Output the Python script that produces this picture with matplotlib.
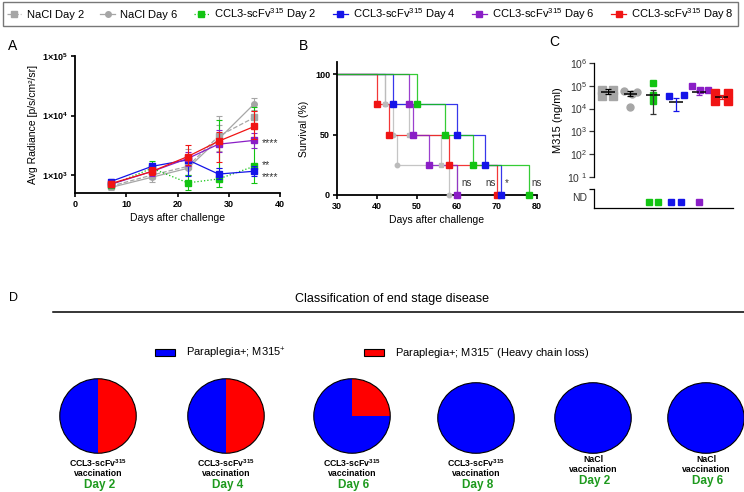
import numpy as np
import matplotlib
matplotlib.use("Agg")
import matplotlib.pyplot as plt
import matplotlib.transforms as mtrans
from matplotlib.lines import Line2D
from matplotlib.patches import Patch, Ellipse

plt.rcParams['font.family'] = ['Liberation Sans', 'DejaVu Sans']
plt.rcParams['mathtext.fontset'] = 'custom'
plt.rcParams['mathtext.rm'] = 'Liberation Sans'
plt.rcParams['mathtext.bf'] = 'Liberation Sans:bold'
plt.rcParams['mathtext.it'] = 'Liberation Sans:italic'

W, H = 744, 492


def box(l, t, r, b):
    # pixel box -> figure fraction [left, bottom, width, height]
    return [l / W, 1 - b / H, (r - l) / W, (b - t) / H]


# ---- groups ----
groups = ["NaCl Day 2", "NaCl Day 6",
          "CCL3-scFv$^{315}$ Day 2", "CCL3-scFv$^{315}$ Day 4",
          "CCL3-scFv$^{315}$ Day 6", "CCL3-scFv$^{315}$ Day 8"]
colors = ["#A6A6A6", "#A6A6A6", "#12C412", "#1414E8", "#8A1EC6", "#F01414"]
markers = ["s", "o", "s", "s", "s", "s"]
styles = ["--", "-", ":", "-", "-", "-"]

# ---- panel A: radiance ----
days_a = [7, 15, 22, 28, 35]
rad_mean = [
    [650, 1000, 1400, 4500, 9300],
    [620, 920, 1300, 4000, 15800],
    [680, 1300, 740, 860, 1410],
    [780, 1400, 1800, 1040, 1160],
    [700, 1150, 1900, 3300, 3830],
    [720, 1150, 2050, 3700, 6560],
]
rad_lo = [
    [590, 850, 1000, 1300, 7000],
    [570, 780, 1000, 2500, 12500],
    [620, 1050, 570, 620, 730],
    [720, 1200, 960, 850, 950],
    [640, 950, 1400, 2400, 2900],
    [660, 1000, 1500, 1650, 4000],
]
rad_hi = [
    [720, 1200, 2700, 10000, 11800],
    [680, 1100, 2000, 7000, 20000],
    [740, 1700, 1000, 8300, 14000],
    [850, 1600, 2200, 1300, 1400],
    [760, 1350, 2400, 5800, 5000],
    [790, 1350, 3200, 5200, 11800],
]
stars_a = {4: "****", 2: "**", 3: "****"}

# ---- panel B: survival ----
death_days = [
    [42, 48, 56, 60],
    [42, 44, 45, 58],
    [50, 57, 64, 78],
    [44, 60, 67, 71],
    [48, 49, 53, 60],
    [40, 43, 58, 70],
]
sig_labels = ["ns", "ns", "*", "ns"]
sig_x = [62.5, 68.3, 72.5, 80]

# ---- panel C: M315 serum ----
c_points = [[68000, 68000, 35000, 35000],
            [60000, 52000, 45000, 12000],
            [130000, 38000, 21000],
            [35000, 41000],
            [96000, 68000, 68000],
            [48000, 48000, 22000, 22000]]
c_mean = [54000, 44000, 38000, 18600, 55000, 32000]
c_lo = [42000, 35000, 6000, 7900, 38000, 26000]
c_hi = [70000, 57000, 68000, 29000, 68000, 40000]
c_nd = [0, 0, 2, 2, 1, 0]
c_jitter = [[-0.25, 0.25, -0.25, 0.25], [-0.3, 0.3, 0.05, 0.0], [0, 0, 0],
            [-0.3, 0.35], [-0.3, 0.05, 0.4], [-0.28, 0.28, -0.28, 0.28]]
c_ecol = ["black", "black", "#333333", "#1414E8", "#8A1EC6", "#F01414"]

# ---- panel D: end stage disease ----
pie_red = [2, 2, 1, 0, 0, 0]
pie_blue = [2, 2, 3, 4, 4, 4]
pie_name = ["CCL3-scFv$^{\\mathbf{315}}$"] * 4 + ["NaCl"] * 2
pie_day = ["Day 2", "Day 4", "Day 6", "Day 8", "Day 2", "Day 6"]

fig = plt.figure(figsize=(W / 100, H / 100), dpi=100)


def style_axis(ax):
    for s in ["top", "right"]:
        ax.spines[s].set_visible(False)
    for s in ["left", "bottom"]:
        ax.spines[s].set_linewidth(1.3)
    ax.tick_params(width=1.2, length=3, labelsize=6.5, pad=2)
    for lab in ax.get_xticklabels() + ax.get_yticklabels():
        lab.set_fontweight("bold")


# ================= A =================
axA = fig.add_axes(box(75, 56, 280, 193))
for i in range(6):
    m = np.array(rad_mean[i], float)
    lo = m - np.array(rad_lo[i])
    hi = np.array(rad_hi[i]) - m
    axA.errorbar(days_a, m, yerr=[lo, hi], color=colors[i], ls=styles[i], lw=0.9,
                 marker=markers[i], ms=4.5 if markers[i] == "s" else 4,
                 mec=colors[i], capsize=2.5, elinewidth=0.8, capthick=0.8, zorder=3 + i)
axA.set_yscale("log")
axA.set_ylim(500, 1e5)
axA.set_xlim(0, 40)
axA.set_xticks([0, 10, 20, 30, 40])
axA.set_yticks([1e3, 1e4, 1e5])
axA.set_yticklabels([r"$\mathbf{1{\times}10^{3}}$", r"$\mathbf{1{\times}10^{4}}$",
                     r"$\mathbf{1{\times}10^{5}}$"])
axA.yaxis.set_minor_locator(matplotlib.ticker.NullLocator())
style_axis(axA)
axA.set_xlabel("Days after challenge", fontsize=7.5, labelpad=3)
axA.set_ylabel("Avg Radiance [p/s/cm²/sr]", fontsize=7.5, labelpad=3)
# asterisks sit high in the em box: shift baseline down so the glyphs centre on the point
star_shift = {4: -6, 2: -2, 3: -9}
for i, s in stars_a.items():
    tr = mtrans.offset_copy(axA.transData, fig=fig, y=star_shift[i], units="dots")
    axA.text(36.4, rad_mean[i][-1], s, fontsize=7.5, color="#333333", va="baseline",
             ha="left", transform=tr)

# ================= B =================
axB = fig.add_axes(box(337, 62, 537, 195))
order_b = [0, 1, 5, 3, 4, 2]
for i in order_b:
    t = [0] + death_days[i]
    n = len(death_days[i])
    surv = 100 - 100 * np.arange(n + 1) / n
    c = "#BBBBBB" if i < 2 else colors[i]
    axB.step(t, surv, where="post", color=c, lw=0.9, alpha=0.85, zorder=2)
    ms = 4.5 if i == 3 else (3.2 if i < 2 else 3.8)
    axB.plot(death_days[i], surv[1:], ls="none", marker=markers[i] if i < 2 else "s",
             ms=ms, color=c, mec=c, zorder=4, clip_on=False)
axB.set_xlim(30, 80)
axB.set_ylim(0, 110)
axB.set_xticks([30, 40, 50, 60, 70, 80])
axB.set_yticks([0, 50, 100])
style_axis(axB)
axB.set_xlabel("Days after challenge", fontsize=7.5, labelpad=3)
axB.set_ylabel("Survival (%)", fontsize=7.5, labelpad=4)
for x, s in zip(sig_x, sig_labels):
    axB.text(x, 10, s, fontsize=7, color="#333333", ha="center", va="center", clip_on=False)

# ================= C =================
axC = fig.add_axes(box(594, 63, 733, 177))
axC2 = fig.add_axes(box(594, 189, 733, 208))
for i in range(6):
    xs = i + np.array(c_jitter[i])
    ms = 6 if i in (0, 5) else 5
    axC.plot(xs, c_points[i], ls="none", marker=markers[i], ms=ms, color=colors[i],
             mec=colors[i], zorder=3, clip_on=False)
    axC.hlines(c_mean[i], i - 0.3, i + 0.3, color="black", lw=1.1, zorder=4)
    axC.errorbar([i], [c_mean[i]], yerr=[[c_mean[i] - c_lo[i]], [c_hi[i] - c_mean[i]]],
                 fmt="none", ecolor=c_ecol[i], elinewidth=0.9, capsize=2.5, capthick=0.9, zorder=4)
    if c_nd[i]:
        nx = i + (np.arange(c_nd[i]) - (c_nd[i] - 1) / 2) * 0.4
        axC2.plot(nx, [0.32] * c_nd[i], ls="none", marker="s", ms=4.5, color=colors[i],
                  mec=colors[i], clip_on=False)
axC.set_yscale("log")
axC.set_ylim(10, 1e6)
axC.set_xlim(-0.6, 5.5)
axC.set_yticks([1e1, 1e2, 1e3, 1e4, 1e5, 1e6])
axC.set_yticklabels([r"10 $^{1}$", r"10$^{2}$", r"10$^{3}$", r"10$^{4}$", r"10$^{5}$", r"10$^{6}$"])
axC.yaxis.set_minor_locator(matplotlib.ticker.NullLocator())
axC.set_xticks([])
for s in ["top", "right", "bottom"]:
    axC.spines[s].set_visible(False)
axC.spines["left"].set_linewidth(0.9)
axC.tick_params(length=3.5, width=0.9, labelsize=7.5, pad=1.5, colors="#333333")
axC.set_ylabel("M315 (ng/ml)", fontsize=8, labelpad=3)

axC2.set_xlim(-0.6, 5.5)
axC2.set_ylim(0, 1)
axC2.set_xticks([])
axC2.set_yticks([1])
axC2.set_yticklabels([""])
for s in ["top", "right"]:
    axC2.spines[s].set_visible(False)
for s in ["left", "bottom"]:
    axC2.spines[s].set_linewidth(0.9)
axC2.tick_params(length=3.5, width=0.9)
axC2.text(-0.05, 0.53, "ND", transform=axC2.transAxes, fontsize=7.5, ha="right", va="center",
          color="#333333")

# ================= D =================
fig.text(392 / W, 1 - 299 / H, "Classification of end stage disease", fontsize=9,
         ha="center", va="center")
fig.add_artist(Line2D([53 / W, 1], [1 - 312 / H] * 2, color="black", lw=1.1))

leg_d = fig.legend([Patch(fc="#0000FF", ec="black", lw=0.8), Patch(fc="#FF0000", ec="black", lw=0.8)],
                   ["Paraplegia+; M315$^{+}$", "Paraplegia+; M315$^{-}$ (Heavy chain loss)"],
                   loc="center left", bbox_to_anchor=(155 / W, 1 - 353 / H), ncol=2,
                   frameon=False, fontsize=8, handlelength=1.8, handleheight=0.6,
                   handletextpad=1.0, columnspacing=7.0, borderpad=0, borderaxespad=0)

pie_cx = [98, 226, 352, 476, 593, 706]
for i, cx in enumerate(pie_cx):
    hgt = 76 if i < 3 else 72
    cy = 416 if i < 3 else 418
    ax = fig.add_axes(box(cx - 39, cy - hgt / 2, cx + 39, cy + hgt / 2))
    ax.pie([pie_red[i], pie_blue[i]], colors=["#FF0000", "#0000FF"], startangle=90,
           counterclock=False, wedgeprops=dict(linewidth=0))
    ax.add_patch(Ellipse((0, 0), 2, 2, fill=False, ec="black", lw=0.8))
    ax.set_aspect("auto")
    ax.set_xlim(-1.02, 1.02)
    ax.set_ylim(-1.02, 1.02)
    ax.axis("off")
    y1 = 463 if i < 4 else 459
    fig.text(cx / W, 1 - y1 / H, pie_name[i], fontsize=6.3, fontweight="bold",
             ha="center", va="center")
    fig.text(cx / W, 1 - (y1 + 11) / H, "vaccination", fontsize=6.3, fontweight="bold",
             ha="center", va="center")
    fig.text((cx + 2) / W, 1 - (y1 + 22) / H, pie_day[i], fontsize=8.5, fontweight="bold",
             color="#1E9A1E", ha="center", va="center")

# ---- panel letters ----
fig.text(8 / W, 1 - 46 / H, "A", fontsize=10, va="center")
fig.text(299 / W, 1 - 46 / H, "B", fontsize=10, va="center")
fig.text(549 / W, 1 - 42 / H, "C", fontsize=10, va="center")
fig.text(9 / W, 1 - 298 / H, "D", fontsize=9, va="center")

# ---- top legend ----
handles = [Line2D([0], [0], color=colors[i], marker=markers[i], ls=styles[i], lw=0.9,
                  ms=4, mec=colors[i]) for i in range(6)]
fig.legend(handles, groups, loc="center", bbox_to_anchor=(3 / W, 1 - 26 / H, 735 / W, 24 / H),
           mode="expand", ncol=6, fontsize=8, frameon=True, fancybox=False, edgecolor="#555555",
           borderaxespad=0, handlelength=1.3, handletextpad=0.5, columnspacing=0.8,
           borderpad=0.35)

fig.savefig("out.png", dpi=100)
